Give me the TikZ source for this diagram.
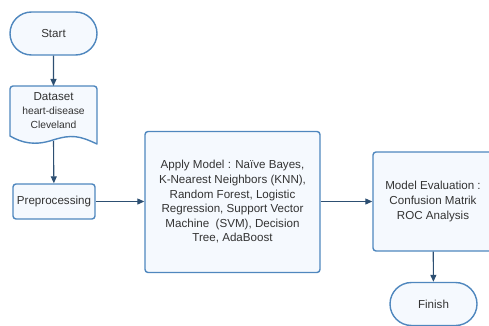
\documentclass[tikz,border=0pt]{standalone}
\usepackage{fontspec}
\setmainfont{Liberation Sans}
\usetikzlibrary{arrows.meta,shapes.misc}
\definecolor{bfill}{HTML}{F5F9FE}
\definecolor{bline}{HTML}{4F87BE}
\definecolor{aline}{HTML}{2D4F72}
\definecolor{txt}{HTML}{333333}
\begin{document}
\begin{tikzpicture}[x=1pt,y=-1pt,
  every node/.style={text=txt,font=\fontsize{11.6}{14.6}\selectfont},
  term/.style={draw=bline,fill=bfill,line width=1.4pt,rounded rectangle,minimum width=87pt,minimum height=43pt,inner sep=0pt},
  proc/.style={draw=bline,fill=bfill,line width=1.4pt,rounded corners=3pt,align=center,inner sep=0pt},
  conn/.style={draw=aline,line width=1.1pt,-{Triangle[length=7pt,width=6pt]}}]
\useasboundingbox (0,0) rectangle (489,326);
\node[term] (start) at (53.5,33.5) {Start};
% dataset document shape
\draw[draw=bline,fill=bfill,line width=1.4pt,line join=round]
  (10,136) -- (10,89) arc[start angle=180,end angle=270,radius=3] -- (94,86)
  arc[start angle=270,end angle=360,radius=3] -- (97,144)
  .. controls (80,136) and (72,134) .. (53,140) .. controls (35,146) and (22,143) .. (10,136) -- cycle;
\node[align=center,inner sep=0pt] (dataset) at (53.5,110.5) {Dataset\\[-1pt]{\fontsize{10.3}{13.5}\selectfont heart-disease}\\[-1pt]{\fontsize{10.3}{13.5}\selectfont Cleveland}};
\coordinate (dtop) at (53.5,86);
\coordinate (dbot) at (53.5,141);
\node[proc,minimum width=82pt,minimum height=35pt] (pre) at (54,201.5) {Preprocessing};
\node[proc,minimum width=175pt,minimum height=141pt] (apply) at (232.5,202) {Apply Model : Naïve Bayes,\\K-Nearest Neighbors (KNN),\\Random Forest, Logistic\\Regression, Support Vector\\Machine\ \ (SVM), Decision\\Tree, AdaBoost};
\node[proc,minimum width=120pt,minimum height=99pt] (eval) at (433,201.5) {Model Evaluation :\\Confusion Matrik\\ROC Analysis};
\node[term] (finish) at (433.5,304) {Finish};
\draw[conn] (start) -- (dtop);
\draw[conn] (dbot) -- (pre);
\draw[conn] (pre.east) -- (apply.west |- pre.east);
\draw[conn] (apply.east |- eval.west) -- (eval.west);
\draw[conn] (eval) -- (finish);
\end{tikzpicture}
\end{document}
